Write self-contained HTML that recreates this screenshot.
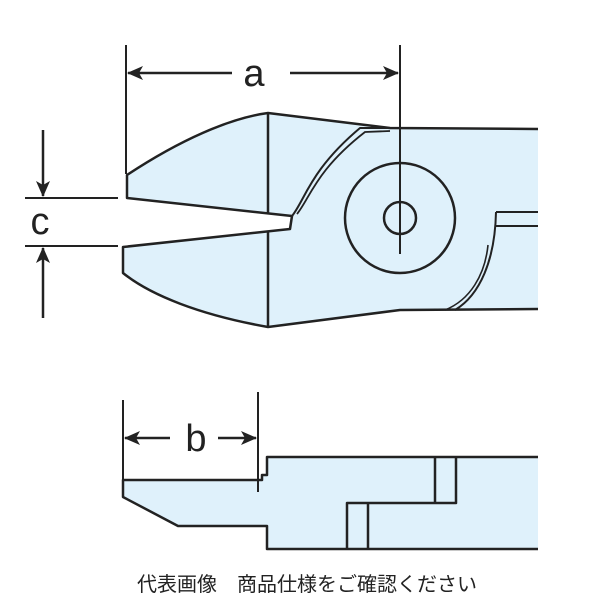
<!DOCTYPE html>
<html><head><style>body{margin:0;background:#fff}svg{display:block}</style></head><body>
<svg width="600" height="600" viewBox="0 0 600 600" xmlns="http://www.w3.org/2000/svg">
<defs>
<marker id="ar2" markerWidth="16" markerHeight="14" refX="15" refY="7" orient="auto" markerUnits="userSpaceOnUse"><path d="M0,0 L16,7 L0,14 L4,7 Z" fill="#222"/></marker></defs>
<path d="M127,175 C180,140 230,118 268,113 L390,128 L538,129 L538,309 L400,310 L268,327 C200,315 150,295 123,273 L123,247 L290,229 L292,216 L127,198 Z" fill="#dff1fb"/>
<path d="M123,480 L262,480 L262,475 L267,475 L267,457 L538,457 L538,549 L267,549 L267,526 L178,526 L123,497 Z" fill="#dff1fb"/>
<g stroke="#222" stroke-width="2.5" fill="none" stroke-linejoin="round">
<path d="M538,129 L390,128 L268,113 C230,118 180,140 127,175 L127,198 L292,216 L290,229 L123,247 L123,273 C150,295 200,315 268,327 L400,310 L538,309"/>
<line x1="268" y1="113" x2="268" y2="213"/>
<line x1="268" y1="232" x2="268" y2="327"/>
<path d="M292,216 C305,200 310,170 360,128 L392,128" stroke-width="2"/>
<path d="M297,214 C310,198 316,170 365,132 L390,131" stroke-width="1.8"/>
<path d="M538,212 L496,212 M496,226 L538,226 M496,212 C495,260 480,295 455,310" stroke-width="2"/>
<path d="M488,245 C485,275 470,300 445,310" stroke-width="1.6"/>
<circle cx="400" cy="218" r="55"/>
<circle cx="400" cy="218" r="16"/>
<line x1="400" y1="45" x2="400" y2="254" stroke-width="2"/>
<line x1="126" y1="45" x2="126" y2="174" stroke-width="2"/>
<line x1="232" y1="73" x2="128" y2="73" marker-end="url(#ar2)"/>
<line x1="290" y1="73" x2="398" y2="73" marker-end="url(#ar2)"/>
<line x1="25" y1="198" x2="118" y2="198" stroke-width="2"/>
<line x1="25" y1="246" x2="118" y2="246" stroke-width="2"/>
<line x1="43" y1="130" x2="43" y2="196" marker-end="url(#ar2)"/>
<line x1="43" y1="318" x2="43" y2="248" marker-end="url(#ar2)"/>
<path d="M538,457 L267,457 L267,475 L262,475 L262,480 L123,480 L123,497 L178,526 L267,526 L267,549 L538,549"/>
<path d="M435,457 L435,503 M456,457 L456,503 L347,503 L347,549 M368,503 L368,549"/>
<line x1="123" y1="400" x2="123" y2="480" stroke-width="2"/>
<line x1="258" y1="392" x2="258" y2="492" stroke-width="2"/>
<line x1="170" y1="438" x2="125" y2="438" marker-end="url(#ar2)"/>
<line x1="218" y1="438" x2="256" y2="438" marker-end="url(#ar2)"/>
</g>
<g font-family="Liberation Sans, sans-serif" fill="#222">
<text x="254" y="86" font-size="38" text-anchor="middle">a</text>
<text x="40" y="234" font-size="38" text-anchor="middle">c</text>
<text x="196" y="451" font-size="38" text-anchor="middle">b</text>
<text x="307" y="591" font-size="20" text-anchor="middle" font-family="Liberation Sans, Noto Sans CJK JP, sans-serif">代表画像　商品仕様をご確認ください</text>
</g>
</svg>
</body></html>
